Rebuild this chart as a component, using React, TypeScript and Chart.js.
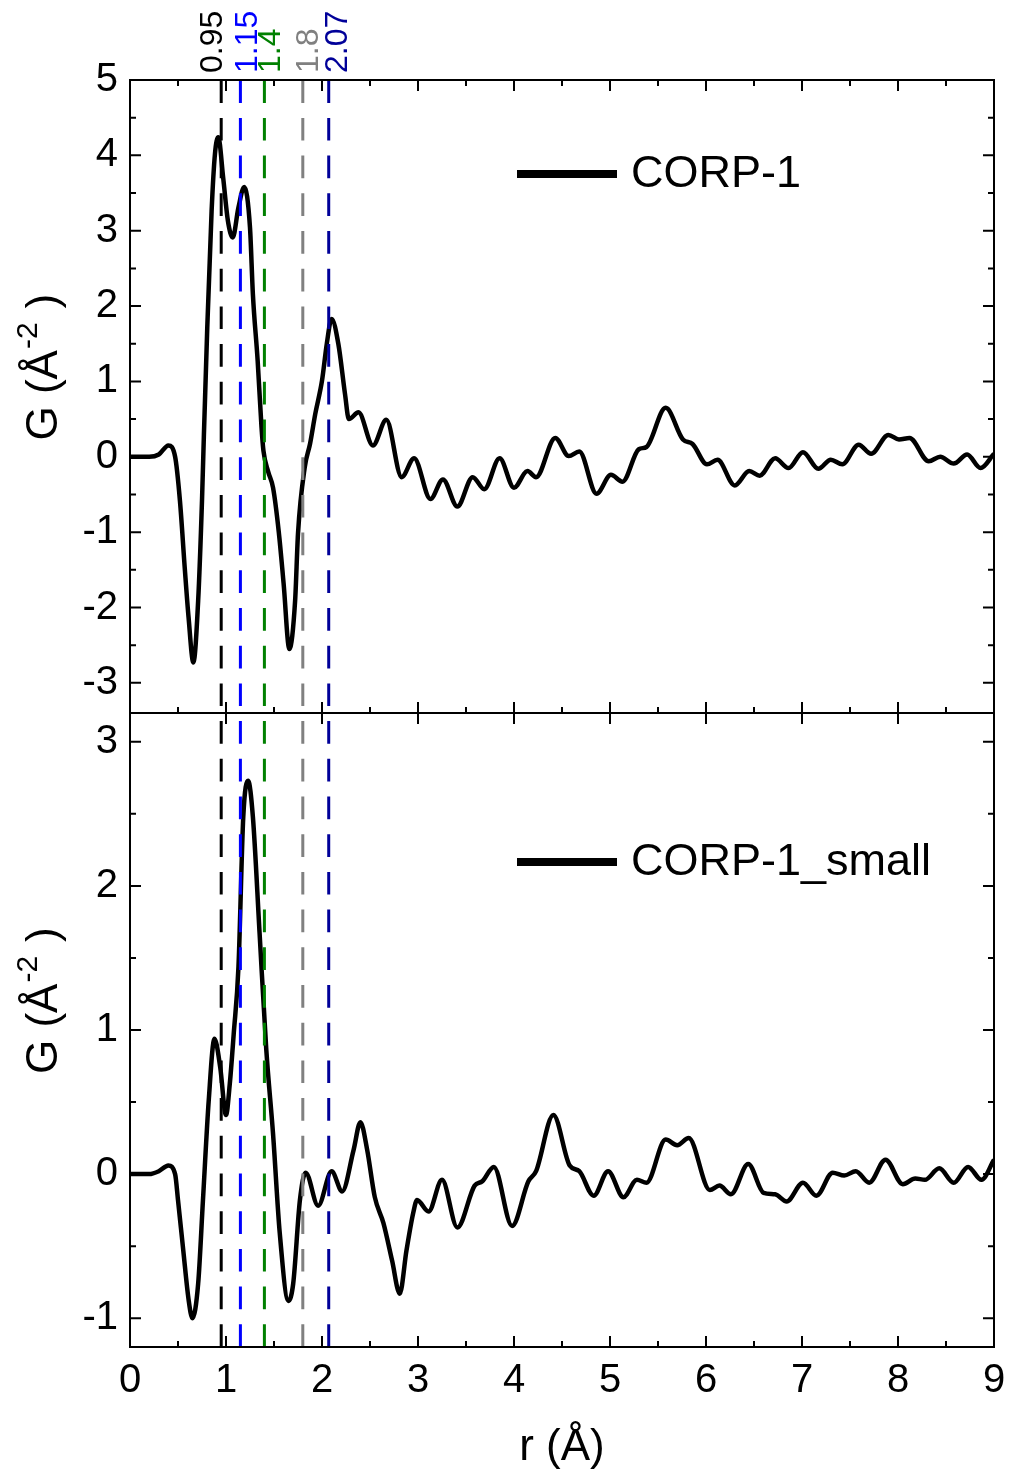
import React, { useEffect, useRef } from "react";
import { Chart, registerables } from "chart.js";

Chart.register(...registerables);

// ---- data ----
const rTop = [
  0, 0.2, 0.3, 0.4, 0.47, 0.52, 0.57, 0.61, 0.66, 0.71, 0.75, 0.77, 0.805, 0.85, 0.885, 0.92,
  0.97, 1.02, 1.07, 1.13, 1.19, 1.25, 1.28, 1.33, 1.37, 1.39, 1.44, 1.49, 1.55, 1.6, 1.66, 1.72,
  1.75, 1.82, 1.875, 1.93, 2.0, 2.05, 2.1, 2.17, 2.24, 2.28, 2.38, 2.53, 2.67, 2.83, 2.96, 3.13,
  3.26, 3.41, 3.57, 3.69, 3.85, 4.0, 4.14, 4.23, 4.43, 4.57, 4.68, 4.86, 5.01, 5.13, 5.3, 5.38,
  5.58, 5.76, 5.86, 6.01, 6.12, 6.3, 6.45, 6.56, 6.72, 6.86, 7.01, 7.17, 7.3, 7.42, 7.59, 7.72,
  7.9, 8.01, 8.12, 8.32, 8.44, 8.58, 8.72, 8.86, 9.0,
];
const gTop = [
  0, 0.0, 0.03, 0.15, 0.0, -0.58, -1.47, -2.13, -2.73, -1.91, -0.58, 0.3, 1.72, 3.26, 4.02, 4.24,
  3.71, 3.13, 2.91, 3.31, 3.58, 3.04, 2.16, 1.27, 0.39, 0.08, -0.2, -0.41, -1.0, -1.68, -2.55, -1.91,
  -1.02, -0.14, 0.17, 0.57, 1.01, 1.5, 1.83, 1.5, 0.83, 0.5, 0.59, 0.15, 0.49, -0.27, -0.02, -0.56,
  -0.3, -0.66, -0.27, -0.43, -0.02, -0.41, -0.19, -0.27, 0.25, 0.01, 0.07, -0.49, -0.24, -0.33, 0.1, 0.13,
  0.65, 0.23, 0.17, -0.1, -0.04, -0.38, -0.19, -0.25, -0.02, -0.15, 0.06, -0.16, -0.04, -0.1, 0.16, 0.04,
  0.29, 0.23, 0.25, -0.06, 0.0, -0.09, 0.03, -0.15, 0.04,
];

const rBot = [
  0, 0.2, 0.3, 0.4, 0.47, 0.5, 0.555, 0.61, 0.65, 0.71, 0.76, 0.82, 0.88, 0.94, 1.0, 1.04,
  1.08, 1.13, 1.18, 1.23, 1.28, 1.35, 1.42, 1.49, 1.56, 1.65, 1.7, 1.77, 1.83, 1.96, 2.1, 2.21,
  2.33, 2.4, 2.47, 2.55, 2.64, 2.73, 2.81, 2.88, 2.95, 2.99, 3.11, 3.25, 3.41, 3.59, 3.67, 3.79,
  3.98, 4.15, 4.23, 4.41, 4.58, 4.68, 4.83, 4.98, 5.14, 5.28, 5.38, 5.58, 5.7, 5.82, 6.04, 6.14,
  6.26, 6.44, 6.6, 6.72, 6.84, 7.01, 7.15, 7.32, 7.44, 7.56, 7.7, 7.87, 8.05, 8.18, 8.28, 8.43,
  8.58, 8.73, 8.87, 9.0,
];
const gBot = [
  0, 0.0, 0.02, 0.06, 0.0, -0.18, -0.53, -0.87, -1.0, -0.76, -0.18, 0.51, 0.94, 0.74, 0.41, 0.63,
  0.97, 1.44, 2.48, 2.73, 2.48, 1.67, 0.86, 0.28, -0.41, -0.88, -0.76, -0.18, 0.01, -0.22, 0.02, -0.12,
  0.17, 0.36, 0.17, -0.16, -0.34, -0.6, -0.83, -0.53, -0.27, -0.18, -0.26, -0.04, -0.37, -0.08, -0.05, 0.05,
  -0.36, -0.05, 0.02, 0.41, 0.06, 0.02, -0.15, 0.02, -0.16, -0.04, -0.06, 0.24, 0.2, 0.25, -0.11, -0.08,
  -0.14, 0.07, -0.13, -0.14, -0.19, -0.06, -0.15, 0.01, -0.01, 0.02, -0.06, 0.1, -0.07, -0.03, -0.04, 0.04,
  -0.06, 0.05, -0.04, 0.1,
];

const refLines = [0.95, 1.15, 1.4, 1.8, 2.07];
const refLabels = ["0.95", "1.15", "1.4", "1.8", "2.07"];
const refColors = ["#000000", "#0000ff", "#008000", "#808080", "#000099"];
const refLabelDx = [1, 17, 16, 15, 18];

const seriesTop = "CORP-1";
const seriesBot = "CORP-1_small";
const xTitle = "r (Å)";
const yTitleMain = "G (Å";
const yTitleSup = "-2";
const yTitleEnd = ")";

const FONT = "'Liberation Sans', Arial, Helvetica, sans-serif";

function drawYTitle(ctx: CanvasRenderingContext2D, baseX: number, startY: number) {
  ctx.save();
  ctx.translate(baseX, startY);
  ctx.rotate(-Math.PI / 2);
  ctx.fillStyle = "#000";
  ctx.textBaseline = "alphabetic";
  ctx.textAlign = "left";
  ctx.font = `44px ${FONT}`;
  ctx.fillText(yTitleMain, 0, 0);
  let w = ctx.measureText(yTitleMain).width + 1;
  ctx.font = `30px ${FONT}`;
  ctx.fillText(yTitleSup, w, -20);
  w += ctx.measureText(yTitleSup).width + 14;
  ctx.font = `44px ${FONT}`;
  ctx.fillText(yTitleEnd, w, 0);
  ctx.restore();
}

const decorPlugin = {
  id: "decor",
  afterDatasetsDraw(chart: any) {
    const { ctx, chartArea } = chart;
    const xs = chart.scales.x;
    ctx.save();
    ctx.lineWidth = 3;
    ctx.setLineDash([22.7, 15]);
    refLines.forEach((v, i) => {
      const px = xs.getPixelForValue(v);
      ctx.strokeStyle = refColors[i];
      ctx.beginPath();
      ctx.moveTo(px, chartArea.bottom);
      ctx.lineTo(px, chartArea.top);
      ctx.stroke();
    });
    ctx.restore();
  },
  afterDraw(chart: any) {
    const { ctx, chartArea } = chart;
    const xs = chart.scales.x;
    const yt = chart.scales.yTop;
    const yb = chart.scales.yBot;
    const L = chartArea.left;
    const R = chartArea.right;
    const T = yt.top;
    const M = yt.bottom;
    const B = yb.bottom;
    ctx.save();
    ctx.strokeStyle = "#000";
    ctx.lineWidth = 2;
    ctx.setLineDash([]);
    // frame
    ctx.beginPath();
    ctx.rect(L, T, R - L, B - T);
    ctx.moveTo(L, M);
    ctx.lineTo(R, M);
    ctx.stroke();

    const MAJ = 11;
    const MIN = 6;
    ctx.beginPath();
    // x ticks
    for (let k = 0; k <= 18; k++) {
      const v = k * 0.5;
      const px = xs.getPixelForValue(v);
      const major = k % 2 === 0;
      const len = major ? MAJ : MIN;
      ctx.moveTo(px, B);
      ctx.lineTo(px, B - len);
      ctx.moveTo(px, T);
      ctx.lineTo(px, T + len);
      ctx.moveTo(px, M);
      ctx.lineTo(px, M - len);
      if (major) {
        ctx.moveTo(px, M);
        ctx.lineTo(px, M + MAJ);
      }
    }
    // y ticks top panel
    for (let k = -6; k <= 10; k++) {
      const v = k * 0.5;
      const py = yt.getPixelForValue(v);
      const len = k % 2 === 0 ? MAJ : MIN;
      ctx.moveTo(L, py);
      ctx.lineTo(L + len, py);
      ctx.moveTo(R, py);
      ctx.lineTo(R - len, py);
    }
    // y ticks bottom panel
    for (let k = -2; k <= 6; k++) {
      const v = k * 0.5;
      const py = yb.getPixelForValue(v);
      const len = k % 2 === 0 ? MAJ : MIN;
      ctx.moveTo(L, py);
      ctx.lineTo(L + len, py);
      ctx.moveTo(R, py);
      ctx.lineTo(R - len, py);
    }
    ctx.stroke();

    // reference labels (rotated)
    ctx.font = `32px ${FONT}`;
    ctx.textBaseline = "alphabetic";
    ctx.textAlign = "left";
    refLines.forEach((v, i) => {
      const px = xs.getPixelForValue(v) + refLabelDx[i];
      ctx.save();
      ctx.translate(px, T - 7);
      ctx.rotate(-Math.PI / 2);
      ctx.fillStyle = refColors[i];
      ctx.fillText(refLabels[i], 0, 0);
      ctx.restore();
    });

    // legends
    const legends = [
      { label: seriesTop, y: 174 },
      { label: seriesBot, y: 862 },
    ];
    legends.forEach((lg) => {
      ctx.lineWidth = 8;
      ctx.strokeStyle = "#000";
      ctx.beginPath();
      ctx.moveTo(517, lg.y);
      ctx.lineTo(617, lg.y);
      ctx.stroke();
      ctx.fillStyle = "#000";
      ctx.font = `45px ${FONT}`;
      ctx.textBaseline = "middle";
      ctx.textAlign = "left";
      ctx.fillText(lg.label, 631, lg.y + 1);
    });

    // axis titles
    drawYTitle(ctx, 57, (T + M) / 2 + 44);
    drawYTitle(ctx, 57, (M + B) / 2 + 44);

    ctx.fillStyle = "#000";
    ctx.font = `44px ${FONT}`;
    ctx.textAlign = "center";
    ctx.textBaseline = "alphabetic";
    ctx.fillText(xTitle, (L + R) / 2, 1460);
    ctx.restore();
  },
};

export default function App() {
  const ref = useRef<HTMLCanvasElement | null>(null);
  useEffect(() => {
    if (!ref.current) return;
    const tickFont = { family: FONT, size: 40 };
    const chart = new Chart(ref.current, {
      type: "line",
      data: {
        datasets: [
          {
            label: seriesTop,
            data: rTop.map((x, i) => ({ x, y: gTop[i] })),
            yAxisID: "yTop",
            borderColor: "#000",
            borderWidth: 4.5,
            pointRadius: 0,
            cubicInterpolationMode: "monotone",
            fill: false,
          },
          {
            label: seriesBot,
            data: rBot.map((x, i) => ({ x, y: gBot[i] })),
            yAxisID: "yBot",
            borderColor: "#000",
            borderWidth: 4.5,
            pointRadius: 0,
            cubicInterpolationMode: "monotone",
            fill: false,
          },
        ],
      },
      options: {
        responsive: false,
        animation: false,
        layout: { padding: { top: 80, right: 16, left: 0, bottom: 0 } },
        plugins: { legend: { display: false }, tooltip: { enabled: false } },
        scales: {
          x: {
            type: "linear",
            position: "bottom",
            min: 0,
            max: 9,
            grid: { display: false, drawTicks: false },
            border: { display: false },
            ticks: { stepSize: 1, font: tickFont, color: "#000", padding: 10, maxRotation: 0, autoSkip: false, includeBounds: false },
            afterFit: (s: any) => {
              s.height = 130;
              s.paddingRight = 0;
              s.paddingLeft = 0;
            },
          },
          yBot: {
            type: "linear",
            position: "left",
            stack: "g",
            stackWeight: 634,
            min: -1.2,
            max: 3.2,
            grid: { display: false, drawTicks: false },
            border: { display: false },
            ticks: { stepSize: 1, font: tickFont, color: "#000", padding: 12, includeBounds: false, autoSkip: false },
            afterFit: (s: any) => {
              s.width = 130;
            },
          },
          yTop: {
            type: "linear",
            position: "left",
            stack: "g",
            stackWeight: 633,
            min: -3.4,
            max: 5,
            grid: { display: false, drawTicks: false },
            border: { display: false },
            ticks: { stepSize: 1, font: tickFont, color: "#000", padding: 12, includeBounds: false, autoSkip: false },
            afterFit: (s: any) => {
              s.width = 130;
            },
          },
        },
      } as any,
      plugins: [decorPlugin],
    });
    return () => chart.destroy();
  }, []);
  return (
    <div style={{ position: "absolute", left: 0, top: 0, width: 1010, height: 1477, background: "#fff" }}>
      <canvas ref={ref} width={1010} height={1477} style={{ display: "block" }} />
    </div>
  );
}
